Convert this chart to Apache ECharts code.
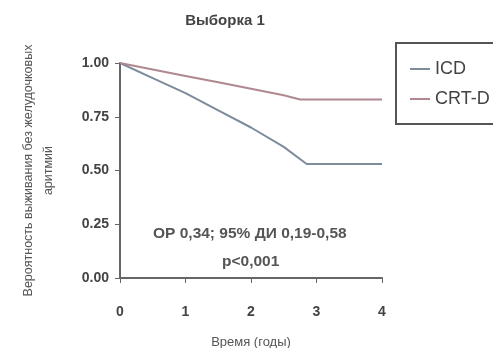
<!DOCTYPE html>
<html><head><meta charset="utf-8">
<script src="https://cdn.jsdelivr.net/npm/echarts@6/dist/echarts.min.js"></script>
<style>html,body{margin:0;padding:0;background:#fff}#c{width:493px;height:348px}</style>
</head><body><div id="c"></div>
<script>
var titleText = "Выборка 1";
var xTicks = [0, 1, 2, 3, 4];
var yTicks = [0, 0.25, 0.5, 0.75, 1];
var seriesNames = ["ICD", "CRT-D"];
var icdX = [0, 0.5, 1.0, 1.5, 2.0, 2.5, 2.85, 4];
var icdY = [1.0, 0.93, 0.86, 0.78, 0.70, 0.61, 0.53, 0.53];
var crtX = [0, 0.5, 1.0, 1.5, 2.0, 2.5, 2.75, 4];
var crtY = [1.0, 0.97, 0.94, 0.91, 0.88, 0.85, 0.83, 0.83];
var annotation = ["ОР 0,34; 95% ДИ 0,19-0,58", "p<0,001"];

function pairs(xs, ys){ return xs.map(function(x,i){ return [x, ys[i]]; }); }

var chart = echarts.init(document.getElementById('c'));
chart.setOption({
  animation: false,
  textStyle: { fontFamily: 'Liberation Sans, Arial, sans-serif' },
  title: { text: titleText, left: 220, top: 8, textAlign: 'center',
    textStyle: { fontSize: 15, fontWeight: 'bold', color: '#444' } },
  legend: {
    orient: 'vertical', left: 396, top: 43,
    data: seriesNames,
    itemWidth: 20, itemHeight: 2, itemGap: 12,
    padding: [17, 30, 16, 14],
    borderColor: '#555', borderWidth: 2,
    textStyle: { fontSize: 18, color: '#444' },
    icon: 'rect'
  },
  grid: { left: 120, right: 111, top: 63, bottom: 70, outerBoundsMode: 'none', containLabel: false },
  xAxis: {
    type: 'value', min: 0, max: 4, interval: 1, offset: 11,
    name: 'Время (годы)', nameLocation: 'middle', nameGap: 47,
    nameTextStyle: { fontSize: 13, color: '#555' },
    axisLine: { show: true, lineStyle: { color: '#666', width: 2 } },
    axisTick: { show: true, lineStyle: { color: '#666' }, length: 5 },
    axisLabel: { fontSize: 14, color: '#444', fontWeight: 'bold', margin: 16,
      formatter: function(v){ return xTicks.indexOf(v) >= 0 ? String(v) : ''; } },
    splitLine: { show: false }
  },
  yAxis: {
    type: 'value', min: 0, max: 1, interval: 0.25, offset: 5,
    name: 'Вероятность выживания без желудочковых\nаритмий',
    nameLocation: 'middle', nameGap: 56, nameRotate: 90,
    nameTextStyle: { fontSize: 12.5, color: '#555', lineHeight: 20, align: 'center' },
    axisLine: { show: true, lineStyle: { color: '#666', width: 2 } },
    axisTick: { show: true, lineStyle: { color: '#666' }, length: 5 },
    axisLabel: { fontSize: 14, color: '#444', fontWeight: 'bold', margin: 6,
      formatter: function(v){ return v.toFixed(2); } },
    splitLine: { show: false }
  },
  graphic: [
    { type: 'text', left: 153, top: 226, style: { text: annotation[0], fontSize: 15.5, fill: '#555', fontWeight: 'bold' } },
    { type: 'text', left: 222, top: 254, style: { text: annotation[1], fontSize: 15.5, fill: '#555', fontWeight: 'bold' } }
  ],
  series: [
    { name: seriesNames[0], type: 'line', data: pairs(icdX, icdY), symbol: 'none',
      lineStyle: { color: '#7d8b9c', width: 2 }, itemStyle: { color: '#7d8b9c' } },
    { name: seriesNames[1], type: 'line', data: pairs(crtX, crtY), symbol: 'none',
      lineStyle: { color: '#b08890', width: 2 }, itemStyle: { color: '#b08890' } }
  ]
});
</script></body></html>
